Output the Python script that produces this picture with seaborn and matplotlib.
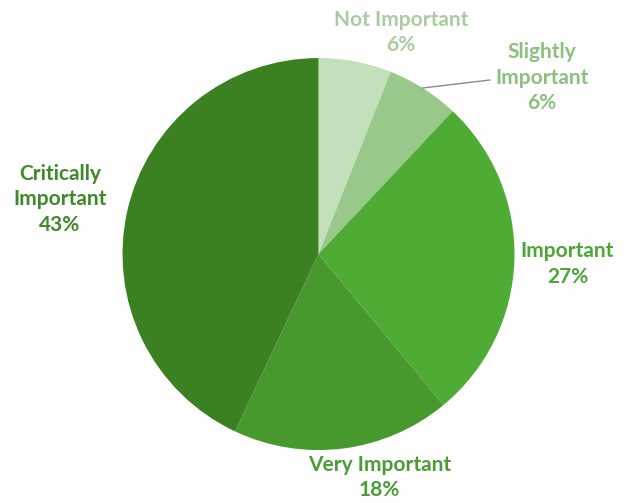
import matplotlib
matplotlib.use("Agg")
import matplotlib.pyplot as plt
import seaborn as sns

# Survey responses, clockwise from twelve o'clock
categories = ["Not Important", "Slightly Important", "Important", "Very Important", "Critically Important"]
shares = [6, 6, 27, 18, 43]
label_lines = ["Not Important", "Slightly\nImportant", "Important", "Very Important", "Critically\nImportant"]

wedge_colors = ["#c4dfbc", "#98c98a", "#4eab33", "#47992d", "#3b8122"]
text_colors = ["#a9cda0", "#8cc07e", "#4ba635", "#4a9d35", "#3e8a2a"]

# Label anchor points in pie units (radius = 1)
label_pos = [(0.42, 1.13), (1.14, 0.90), (1.27, -0.05), (0.31, -1.14), (-1.32, 0.28)]

sns.set_theme(style="white")
plt.rcParams["font.family"] = ["Lato", "DejaVu Sans"]

fig = plt.figure(figsize=(6.36, 5.03), dpi=100)
ax = fig.add_axes([0, 0, 1, 1])

wedges, _ = ax.pie(
    shares,
    colors=wedge_colors,
    startangle=90,
    counterclock=False,
    radius=1.0,
    wedgeprops=dict(linewidth=0),
)

for lab, val, col, (x, y) in zip(label_lines, shares, text_colors, label_pos):
    ax.text(x, y, f"{lab}\n{val}%", ha="center", va="center", color=col,
            fontsize=15, fontweight="bold", linespacing=1.35)

# Leader line for the small "Slightly Important" slice
ax.plot([0.53, 0.875], [0.847, 0.888], color="#8a8a8a", lw=1.0)

ax.set_xlim(-1.625, 1.620)
ax.set_ylim(-1.270, 1.296)
ax.set_aspect("equal")
ax.axis("off")

fig.savefig("out.png", dpi=100, facecolor="white")
